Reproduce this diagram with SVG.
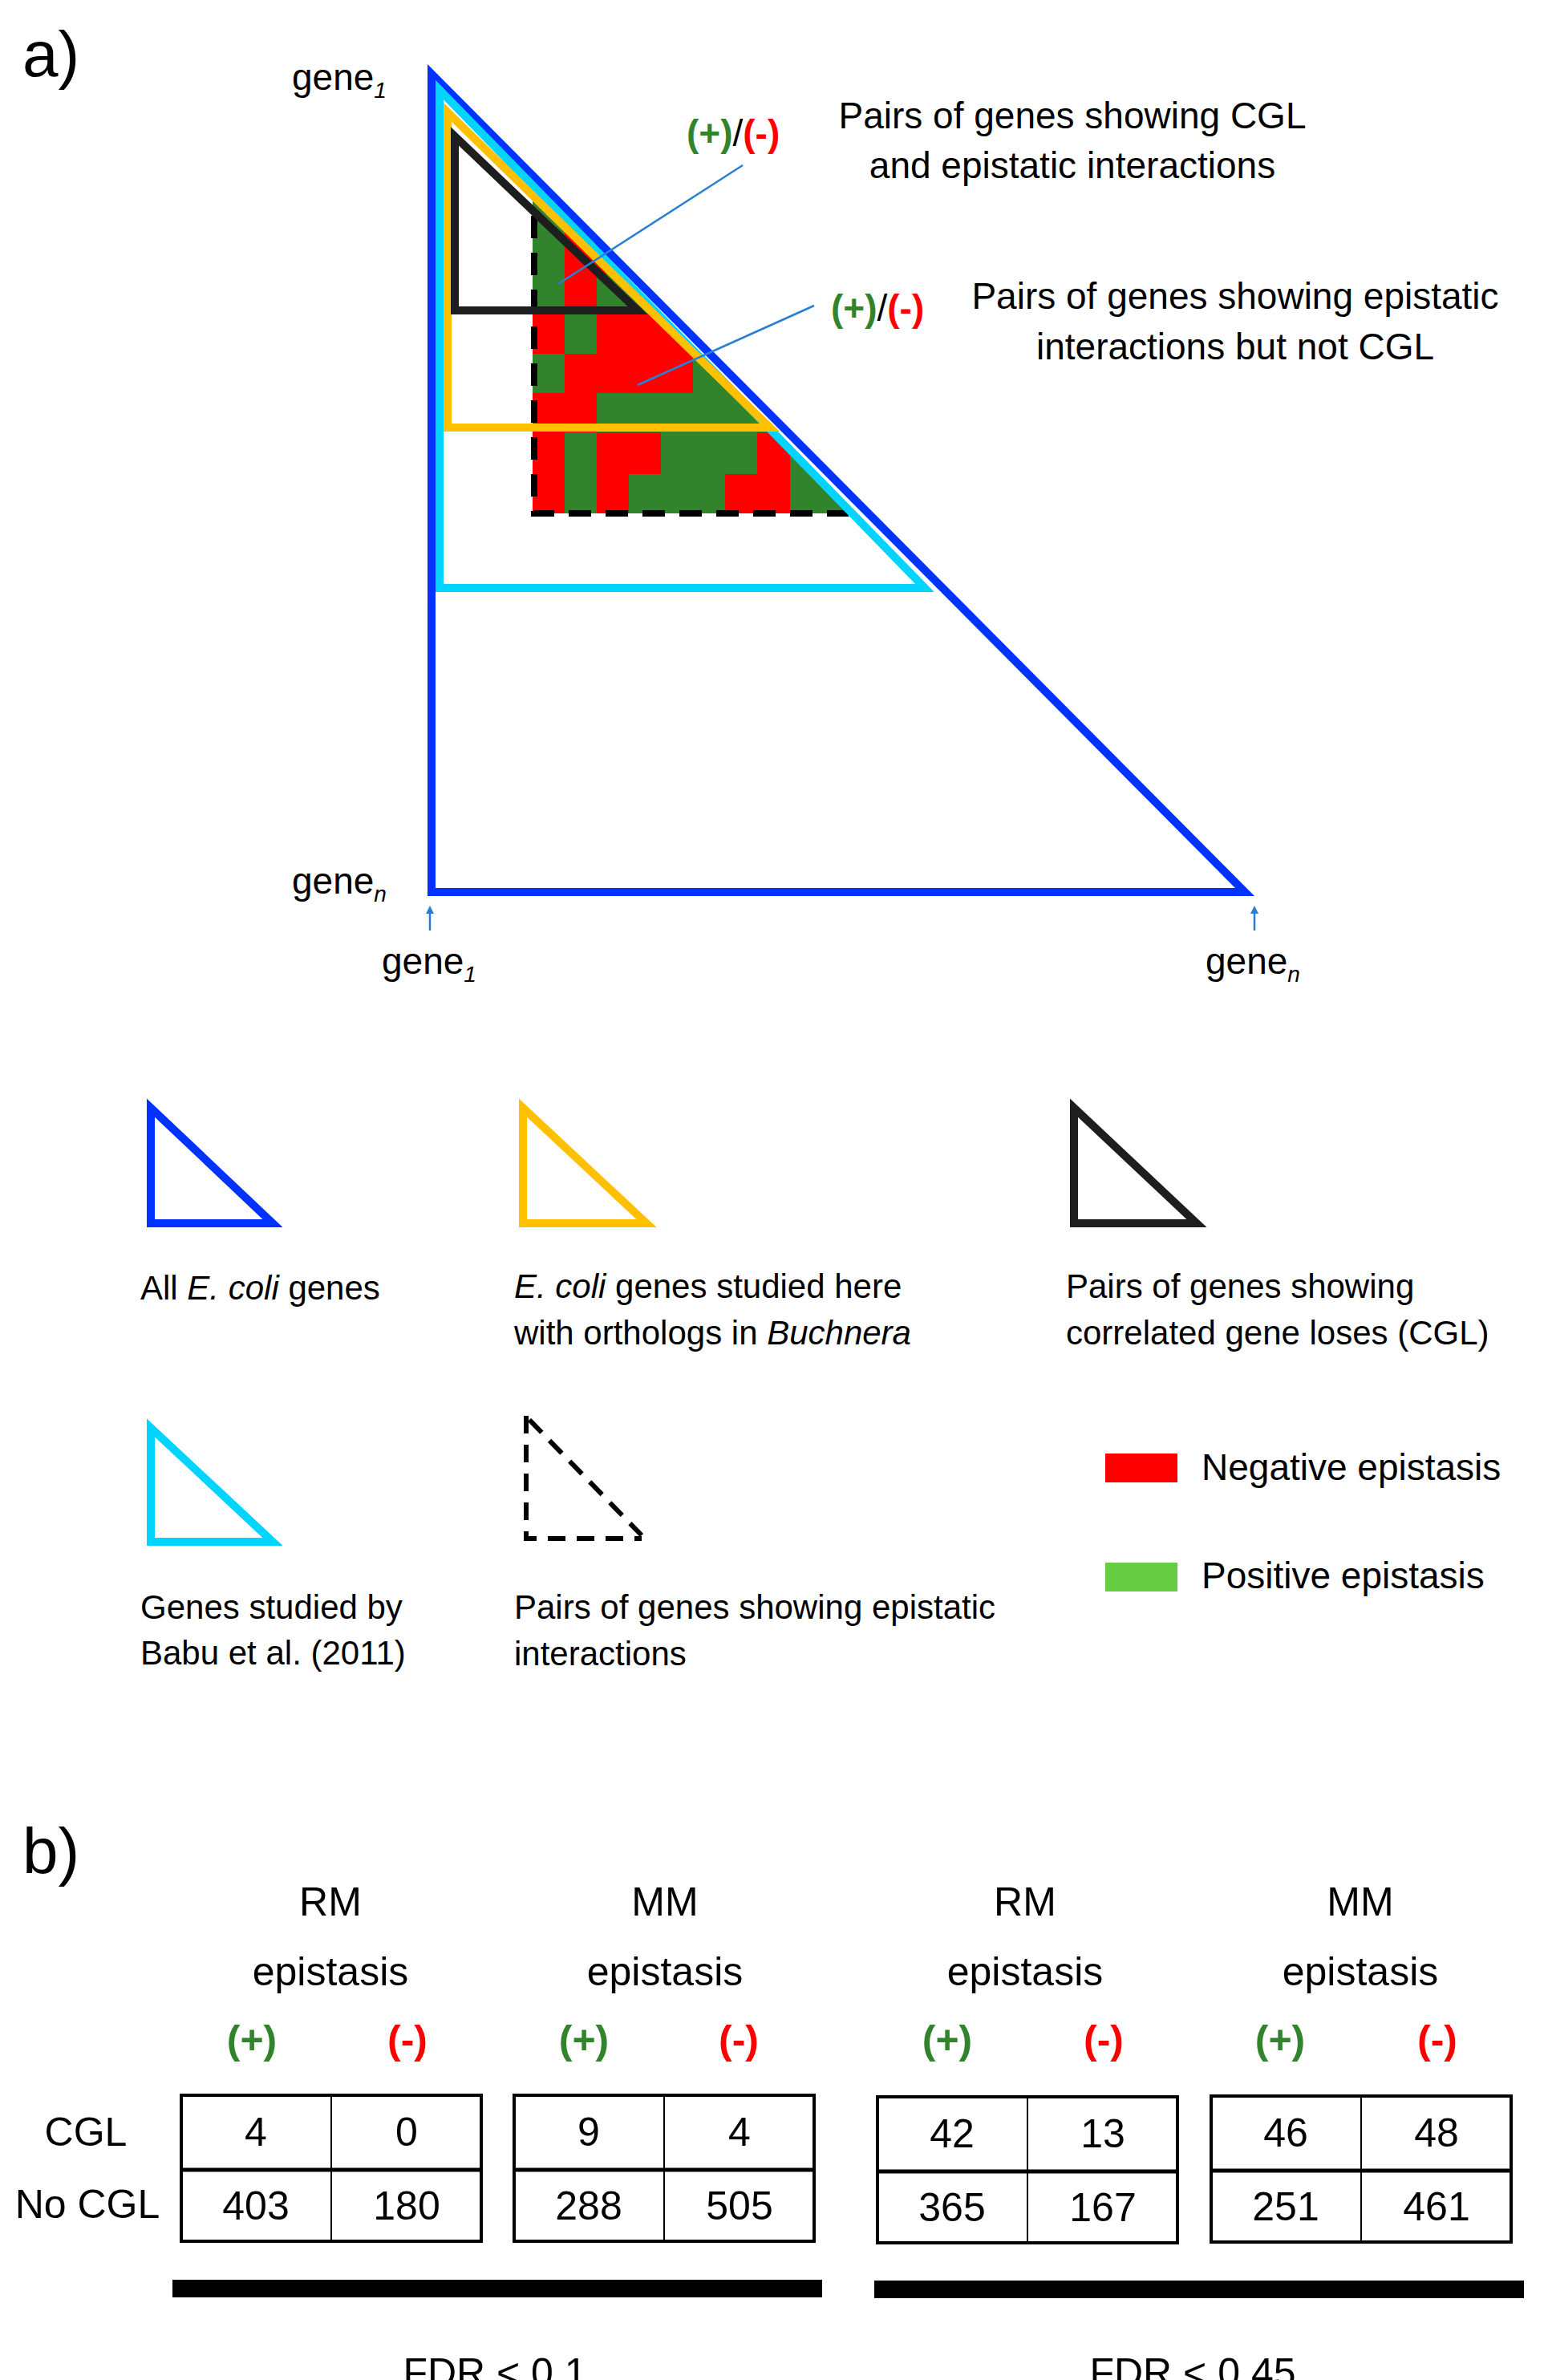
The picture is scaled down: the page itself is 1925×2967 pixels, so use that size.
<svg xmlns="http://www.w3.org/2000/svg" width="1925" height="2967" viewBox="0 0 1925 2967">
<style>
text{font-family:"Liberation Sans",Arial,sans-serif;fill:#000}
.t{font-size:42px}
.h{font-size:46px}
.n{font-size:50px;text-anchor:middle}
.g{fill:#31842c;font-weight:bold}
.r{fill:#ff0000;font-weight:bold}
.tri{fill:none;stroke-width:10;stroke-linejoin:miter}
.cg{fill:#31842c}
.cr{fill:#ff0000}
.tb{fill:#fff;stroke:#000;stroke-width:4}
</style>
<defs>
<clipPath id="hc"><polygon points="664,246 664,640 1060,640"/></clipPath>
<marker id="ar" viewBox="0 0 10 10" refX="5" refY="5" markerWidth="4" markerHeight="4" orient="auto"><path d="M0,0L10,5L0,10z" fill="#2a7fd4"/></marker>
</defs>
<rect width="1925" height="2967" fill="#fff"/>
<text x="28" y="95" style="font-size:80px">a)</text>
<g id="heatmap" clip-path="url(#hc)">
<rect x="664" y="246" width="400" height="394" class="cr"/>
<rect x="664" y="246" width="40" height="145" class="cg"/>
<rect x="744" y="342" width="80" height="49" class="cg"/>
<rect x="704" y="391" width="40" height="50" class="cg"/>
<rect x="664" y="441" width="40" height="49" class="cg"/>
<rect x="864" y="441" width="200" height="49" class="cg"/>
<rect x="744" y="490" width="320" height="49" class="cg"/>
<rect x="704" y="539" width="40" height="101" class="cg"/>
<rect x="824" y="539" width="120" height="52" class="cg"/>
<rect x="985" y="539" width="80" height="101" class="cg"/>
<rect x="784" y="591" width="120" height="49" class="cg"/>
</g>
<g id="dashed-triangle"><polyline points="666,269 666,640 1058,640" fill="none" stroke="#000" stroke-width="8" stroke-dasharray="28,18"/></g>
<g id="blue-triangle"><polygon class="tri" points="538,92 538,1112 1552,1112" stroke="#0033ff"/></g>
<g id="cyan-triangle"><polygon class="tri" points="548,112 548,733 1153,733" stroke="#00d4ff"/></g>
<g id="orange-triangle"><polygon class="tri" points="558,140 558,533 960,533" stroke="#ffc000"/></g>
<g id="black-triangle"><polygon class="tri" points="567,170 567,387 795,387" stroke="#1e1e1e"/></g>
<g id="connectors" stroke="#2a7fd4" stroke-width="2.5" fill="none">
<line x1="926" y1="206" x2="696" y2="354"/>
<line x1="1015" y1="381" x2="795" y2="480"/>
<line x1="536" y1="1160" x2="536" y2="1134" marker-end="url(#ar)"/>
<line x1="1564" y1="1160" x2="1564" y2="1134" marker-end="url(#ar)"/>
</g>
<g id="labels-a">
<text x="856" y="182" class="h"><tspan class="g">(+)</tspan>/<tspan class="r">(-)</tspan></text>
<text x="1337" y="160" class="h" text-anchor="middle">Pairs of genes showing CGL</text>
<text x="1337" y="222" class="h" text-anchor="middle">and epistatic interactions</text>
<text x="1036" y="400" class="h"><tspan class="g">(+)</tspan>/<tspan class="r">(-)</tspan></text>
<text x="1540" y="385" class="h" text-anchor="middle">Pairs of genes showing epistatic</text>
<text x="1540" y="448" class="h" text-anchor="middle">interactions but not CGL</text>
<text x="364" y="112" class="h">gene<tspan font-style="italic" font-size="28" dy="10">1</tspan></text>
<text x="364" y="1114" class="h">gene<tspan font-style="italic" font-size="28" dy="10">n</tspan></text>
<text x="476" y="1214" class="h">gene<tspan font-style="italic" font-size="28" dy="10">1</tspan></text>
<text x="1503" y="1214" class="h">gene<tspan font-style="italic" font-size="28" dy="10">n</tspan></text>
</g>
<g id="legend">
<polygon class="tri" points="188,1381 188,1525 340,1525" stroke="#0033ff" stroke-width="8"/>
<polygon class="tri" points="652,1381 652,1525 806,1525" stroke="#ffc000" stroke-width="8"/>
<polygon class="tri" points="1339,1381 1339,1525 1492,1525" stroke="#1e1e1e" stroke-width="8"/>
<polygon class="tri" points="188,1780 188,1922 340,1922" stroke="#00d4ff" stroke-width="8"/>
<polyline points="656,1765 656,1918 800,1918" fill="none" stroke="#000" stroke-width="6" stroke-dasharray="22,14"/>
<line x1="660" y1="1770" x2="800" y2="1914" stroke="#000" stroke-width="6" stroke-dasharray="22,14"/>
<text x="175" y="1620" class="t">All <tspan font-style="italic">E. coli</tspan> genes</text>
<text x="641" y="1618" class="t"><tspan font-style="italic">E. coli</tspan> genes studied here</text>
<text x="641" y="1676" class="t">with orthologs in <tspan font-style="italic">Buchnera</tspan></text>
<text x="1329" y="1618" class="t">Pairs of genes showing</text>
<text x="1329" y="1676" class="t">correlated gene loses (CGL)</text>
<text x="175" y="2018" class="t">Genes studied by</text>
<text x="175" y="2075" class="t">Babu et al. (2011)</text>
<text x="641" y="2018" class="t">Pairs of genes showing epistatic</text>
<text x="641" y="2076" class="t">interactions</text>
<rect x="1378" y="1812" width="90" height="36" fill="#ff0000"/>
<rect x="1378" y="1948" width="90" height="36" fill="#66cc44"/>
<text x="1498" y="1845" class="h">Negative epistasis</text>
<text x="1498" y="1980" class="h">Positive epistasis</text>
</g>
<text x="28" y="2335" style="font-size:80px">b)</text>
<g id="tables" transform="translate(0,15)">
<g font-size="46">
<text x="412" y="2373" class="n">RM</text><text x="412" y="2460" class="n">epistasis</text>
<text x="829" y="2373" class="n">MM</text><text x="829" y="2460" class="n">epistasis</text>
<text x="1278" y="2373" class="n">RM</text><text x="1278" y="2460" class="n">epistasis</text>
<text x="1696" y="2373" class="n">MM</text><text x="1696" y="2460" class="n">epistasis</text>
</g>
<text x="314" y="2545" class="n g">(+)</text><text x="508" y="2545" class="n r">(-)</text>
<text x="728" y="2545" class="n g">(+)</text><text x="921" y="2545" class="n r">(-)</text>
<text x="1181" y="2545" class="n g">(+)</text><text x="1376" y="2545" class="n r">(-)</text>
<text x="1596" y="2545" class="n g">(+)</text><text x="1792" y="2545" class="n r">(-)</text>
<text x="107" y="2660" class="n" font-size="44">CGL</text>
<text x="109" y="2750" class="n" font-size="44">No CGL</text>
<g id="t1"><rect class="tb" x="226" y="2597" width="374" height="182"/><line x1="226" y1="2690" x2="600" y2="2690" stroke="#000" stroke-width="5"/><line x1="413" y1="2597" x2="413" y2="2779" stroke="#000" stroke-width="2"/>
<text x="319" y="2660" class="n">4</text><text x="507" y="2660" class="n">0</text><text x="319" y="2752" class="n">403</text><text x="507" y="2752" class="n">180</text></g>
<g id="t2"><rect class="tb" x="641" y="2597" width="374" height="182"/><line x1="641" y1="2690" x2="1015" y2="2690" stroke="#000" stroke-width="5"/><line x1="828" y1="2597" x2="828" y2="2779" stroke="#000" stroke-width="2"/>
<text x="734" y="2660" class="n">9</text><text x="922" y="2660" class="n">4</text><text x="734" y="2752" class="n">288</text><text x="922" y="2752" class="n">505</text></g>
<g id="t3"><rect class="tb" x="1094" y="2599" width="374" height="182"/><line x1="1094" y1="2692" x2="1468" y2="2692" stroke="#000" stroke-width="5"/><line x1="1281" y1="2599" x2="1281" y2="2781" stroke="#000" stroke-width="2"/>
<text x="1187" y="2662" class="n">42</text><text x="1375" y="2662" class="n">13</text><text x="1187" y="2754" class="n">365</text><text x="1375" y="2754" class="n">167</text></g>
<g id="t4"><rect class="tb" x="1510" y="2598" width="374" height="182"/><line x1="1510" y1="2691" x2="1884" y2="2691" stroke="#000" stroke-width="5"/><line x1="1697" y1="2598" x2="1697" y2="2780" stroke="#000" stroke-width="2"/>
<text x="1603" y="2661" class="n">46</text><text x="1791" y="2661" class="n">48</text><text x="1603" y="2753" class="n">251</text><text x="1791" y="2753" class="n">461</text></g>
</g>
<rect x="215" y="2842" width="810" height="22" fill="#000"/>
<rect x="1090" y="2843" width="810" height="22" fill="#000"/>
<text x="617" y="2975" class="n" font-size="46">FDR &lt; 0.1</text>
<text x="1487" y="2975" class="n" font-size="46">FDR &lt; 0.45</text>
</svg>
